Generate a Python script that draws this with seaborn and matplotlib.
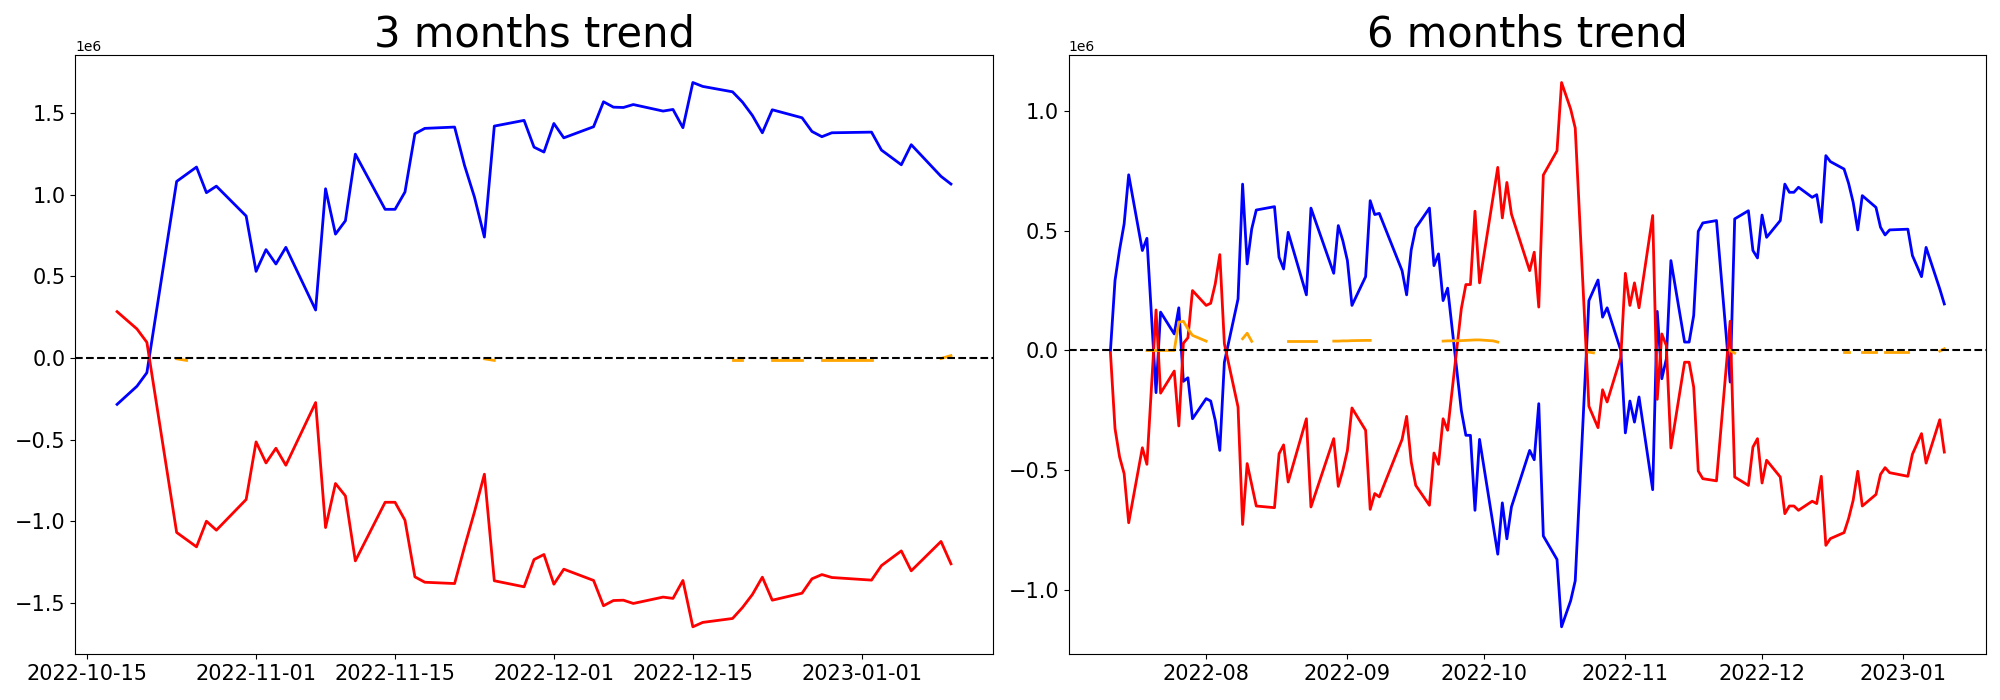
import numpy as np
import pandas as pd
import matplotlib
matplotlib.use("Agg")
import matplotlib.pyplot as plt
import seaborn as sns

SCALE = 1e6  # values below are in millions

# ---------------- 3 months trend ----------------
dates_3m = ["2022-10-18", "2022-10-20", "2022-10-21", "2022-10-24", "2022-10-26", "2022-10-27",
            "2022-10-28", "2022-10-31", "2022-11-01", "2022-11-02", "2022-11-03", "2022-11-04",
            "2022-11-07", "2022-11-08", "2022-11-09", "2022-11-10", "2022-11-11", "2022-11-14",
            "2022-11-15", "2022-11-16", "2022-11-17", "2022-11-18", "2022-11-21", "2022-11-22",
            "2022-11-23", "2022-11-24", "2022-11-25", "2022-11-28", "2022-11-29", "2022-11-30",
            "2022-12-01", "2022-12-02", "2022-12-05", "2022-12-06", "2022-12-07", "2022-12-08",
            "2022-12-09", "2022-12-12", "2022-12-13", "2022-12-14", "2022-12-15", "2022-12-16",
            "2022-12-19", "2022-12-20", "2022-12-21", "2022-12-22", "2022-12-23", "2022-12-26",
            "2022-12-27", "2022-12-28", "2022-12-29", "2023-01-02", "2023-01-03", "2023-01-05",
            "2023-01-06", "2023-01-09", "2023-01-10"]
blue_3m = [-0.284, -0.173, -0.090, 1.082, 1.170, 1.013, 1.053, 0.870, 0.531, 0.664, 0.576, 0.678,
           0.294, 1.037, 0.759, 0.841, 1.249, 0.911, 0.911, 1.017, 1.374, 1.407, 1.415, 1.180,
           0.986, 0.741, 1.421, 1.456, 1.292, 1.262, 1.437, 1.349, 1.417, 1.570, 1.537, 1.535,
           1.553, 1.513, 1.523, 1.411, 1.688, 1.664, 1.631, 1.568, 1.486, 1.380, 1.521, 1.472,
           1.388, 1.356, 1.380, 1.384, 1.274, 1.184, 1.307, 1.113, 1.066]
red_3m = [0.284, 0.178, 0.096, -1.069, -1.157, -1.000, -1.055, -0.867, -0.514, -0.643, -0.553, -0.657,
          -0.273, -1.039, -0.769, -0.845, -1.243, -0.884, -0.884, -0.994, -1.341, -1.374, -1.382, -1.157,
          -0.943, -0.712, -1.365, -1.402, -1.235, -1.204, -1.386, -1.294, -1.363, -1.518, -1.486, -1.484,
          -1.504, -1.465, -1.473, -1.363, -1.647, -1.620, -1.596, -1.529, -1.449, -1.343, -1.484, -1.441,
          -1.353, -1.327, -1.345, -1.361, -1.272, -1.182, -1.304, -1.124, -1.261]
# orange series: None marks a gap in the line
orange_dates_3m = ["2022-10-24", "2022-10-25", None,
                   "2022-11-24", "2022-11-25", None,
                   "2022-12-19", "2022-12-20", None,
                   "2022-12-23", "2022-12-26", None,
                   "2022-12-28", "2022-12-29", "2022-12-30", "2023-01-02", None,
                   "2023-01-09", "2023-01-10"]
orange_3m = [-0.005, -0.015, None,
             -0.005, -0.015, None,
             -0.012, -0.012, None,
             -0.010, -0.010, None,
             -0.010, -0.010, -0.010, -0.010, None,
             -0.003, 0.015]

# ---------------- 6 months trend ----------------
dates_6m = ["2022-07-11", "2022-07-12", "2022-07-13", "2022-07-14", "2022-07-15", "2022-07-18",
            "2022-07-19", "2022-07-21", "2022-07-22", "2022-07-25", "2022-07-26", "2022-07-27",
            "2022-07-28", "2022-07-29", "2022-08-01", "2022-08-02", "2022-08-03", "2022-08-04",
            "2022-08-05", "2022-08-08", "2022-08-09", "2022-08-10", "2022-08-11", "2022-08-12",
            "2022-08-16", "2022-08-17", "2022-08-18", "2022-08-19", "2022-08-23", "2022-08-24",
            "2022-08-29", "2022-08-30", "2022-08-31", "2022-09-01", "2022-09-02", "2022-09-05",
            "2022-09-06", "2022-09-07", "2022-09-08", "2022-09-13", "2022-09-14", "2022-09-15",
            "2022-09-16", "2022-09-19", "2022-09-20", "2022-09-21", "2022-09-22", "2022-09-23",
            "2022-09-26", "2022-09-27", "2022-09-28", "2022-09-29", "2022-09-30", "2022-10-04",
            "2022-10-05", "2022-10-06", "2022-10-07", "2022-10-11", "2022-10-12", "2022-10-13",
            "2022-10-14", "2022-10-17", "2022-10-18", "2022-10-20", "2022-10-21", "2022-10-24",
            "2022-10-26", "2022-10-27", "2022-10-28", "2022-10-31", "2022-11-01", "2022-11-02",
            "2022-11-03", "2022-11-04", "2022-11-07", "2022-11-08", "2022-11-09", "2022-11-10",
            "2022-11-11", "2022-11-14", "2022-11-15", "2022-11-16", "2022-11-17", "2022-11-18",
            "2022-11-21", "2022-11-24", "2022-11-25", "2022-11-28", "2022-11-29", "2022-11-30",
            "2022-12-01", "2022-12-02", "2022-12-05", "2022-12-06", "2022-12-07", "2022-12-08",
            "2022-12-09", "2022-12-12", "2022-12-13", "2022-12-14", "2022-12-15", "2022-12-16",
            "2022-12-19", "2022-12-20", "2022-12-21", "2022-12-22", "2022-12-23", "2022-12-26",
            "2022-12-27", "2022-12-28", "2022-12-29", "2023-01-02", "2023-01-03", "2023-01-05",
            "2023-01-06", "2023-01-09", "2023-01-10"]
blue_6m = [0.000, 0.292, 0.420, 0.528, 0.733, 0.417,
           0.468, -0.176, 0.160, 0.069, 0.178, -0.129,
           -0.114, -0.285, -0.201, -0.211, -0.292, -0.417,
           -0.049, 0.215, 0.694, 0.361, 0.507, 0.586,
           0.600, 0.389, 0.340, 0.493, 0.232, 0.594,
           0.322, 0.521, 0.458, 0.375, 0.188, 0.308,
           0.625, 0.567, 0.572, 0.333, 0.232, 0.419,
           0.511, 0.594, 0.354, 0.403, 0.208, 0.260,
           -0.250, -0.354, -0.354, -0.667, -0.371, -0.850,
           -0.636, -0.786, -0.653, -0.417, -0.456, -0.222,
           -0.774, -0.872, -1.153, -1.044, -0.961, 0.208,
           0.294, 0.139, 0.178, 0.000, -0.344, -0.211,
           -0.299, -0.194, -0.581, 0.163, -0.118, -0.035,
           0.375, 0.035, 0.035, 0.146, 0.497, 0.532,
           0.542, -0.132, 0.549, 0.583, 0.417, 0.386,
           0.565, 0.472, 0.542, 0.694, 0.660, 0.660,
           0.681, 0.639, 0.650, 0.535, 0.813, 0.788,
           0.757, 0.697, 0.618, 0.503, 0.646, 0.597,
           0.514, 0.482, 0.503, 0.506, 0.396, 0.308,
           0.430, 0.257, 0.194]
red_6m = [-0.010, -0.326, -0.444, -0.514, -0.719, -0.406,
          -0.475, 0.169, -0.178, -0.086, -0.315, 0.030,
          0.053, 0.250, 0.188, 0.197, 0.278, 0.400,
          0.028, -0.236, -0.726, -0.472, -0.560, -0.649,
          -0.656, -0.431, -0.394, -0.549, -0.285, -0.653,
          -0.368, -0.567, -0.500, -0.417, -0.240, -0.333,
          -0.663, -0.597, -0.611, -0.371, -0.275, -0.465,
          -0.563, -0.646, -0.428, -0.475, -0.285, -0.333,
          0.174, 0.275, 0.275, 0.581, 0.282, 0.764,
          0.553, 0.701, 0.569, 0.333, 0.410, 0.181,
          0.732, 0.833, 1.118, 1.007, 0.928, -0.233,
          -0.322, -0.164, -0.215, -0.028, 0.322, 0.188,
          0.282, 0.178, 0.563, -0.204, 0.069, 0.020,
          -0.407, -0.049, -0.049, -0.153, -0.503, -0.535,
          -0.544, 0.122, -0.528, -0.563, -0.403, -0.368,
          -0.553, -0.458, -0.528, -0.681, -0.649, -0.649,
          -0.667, -0.629, -0.639, -0.525, -0.813, -0.785,
          -0.760, -0.701, -0.625, -0.504, -0.649, -0.601,
          -0.517, -0.489, -0.510, -0.525, -0.433, -0.347,
          -0.470, -0.289, -0.424]
orange_dates_6m = ["2022-07-19", "2022-07-20", "2022-07-21", "2022-07-22", "2022-07-25", "2022-07-26",
                   "2022-07-27", "2022-07-28", "2022-07-29", "2022-08-01", None,
                   "2022-08-09", "2022-08-10", "2022-08-11", None,
                   "2022-08-19", "2022-08-22", "2022-08-23", "2022-08-24", "2022-08-25", None,
                   "2022-08-29", "2022-08-30", "2022-08-31", "2022-09-01", "2022-09-02",
                   "2022-09-05", "2022-09-06", None,
                   "2022-09-22", "2022-09-23", "2022-09-26", "2022-09-27", "2022-09-28",
                   "2022-09-29", "2022-09-30", "2022-10-03", "2022-10-04", None,
                   "2022-10-24", "2022-10-25", None,
                   "2022-11-24", "2022-11-25", None,
                   "2022-12-19", "2022-12-20", None,
                   "2022-12-23", "2022-12-26", None,
                   "2022-12-28", "2022-12-29", "2022-12-30", "2023-01-02", None,
                   "2023-01-09", "2023-01-10"]
orange_6m = [0.000, 0.000, 0.000, 0.000, 0.000, 0.118,
             0.122, 0.090, 0.063, 0.039, None,
             0.049, 0.072, 0.038, None,
             0.039, 0.039, 0.039, 0.039, 0.039, None,
             0.039, 0.039, 0.040, 0.040, 0.041,
             0.042, 0.042, None,
             0.039, 0.040, 0.041, 0.042, 0.043,
             0.044, 0.044, 0.040, 0.035, None,
             -0.007, -0.010, None,
             0.000, -0.011, None,
             -0.007, -0.007, None,
             -0.007, -0.007, None,
             -0.007, -0.007, -0.007, -0.007, None,
             -0.003, 0.007]

titles = ["3 months trend", "6 months trend"]


def segments(dates, vals):
    seg, out = [], []
    for d, v in zip(dates, vals):
        if d is None:
            if seg:
                out.append(seg)
            seg = []
        else:
            seg.append((d, v))
    if seg:
        out.append(seg)
    return out


fig, axes = plt.subplots(1, 2, figsize=(20, 7), dpi=100)
fig.subplots_adjust(left=0.0377, right=0.993, top=0.921, bottom=0.0657, wspace=0.083)

panels = [
    (dates_3m, blue_3m, red_3m, orange_dates_3m, orange_3m),
    (dates_6m, blue_6m, red_6m, orange_dates_6m, orange_6m),
]

for ax, title, (dts, bl, rd, odts, org) in zip(axes, titles, panels):
    x = pd.to_datetime(dts)
    sns.lineplot(x=x, y=np.array(bl) * SCALE, ax=ax, color="blue", linewidth=2)
    sns.lineplot(x=x, y=np.array(rd) * SCALE, ax=ax, color="red", linewidth=2)
    for seg in segments(odts, org):
        sx = pd.to_datetime([s[0] for s in seg])
        sy = np.array([s[1] for s in seg]) * SCALE
        sns.lineplot(x=sx, y=sy, ax=ax, color="orange", linewidth=2)
    ax.axhline(0, color="black", linestyle="--", linewidth=1.5)
    ax.set_title(title, fontsize=30)
    ax.set_xlabel("")
    ax.set_ylabel("")
    ax.tick_params(axis="both", labelsize=15)

fig.savefig("out.png", dpi=100)
